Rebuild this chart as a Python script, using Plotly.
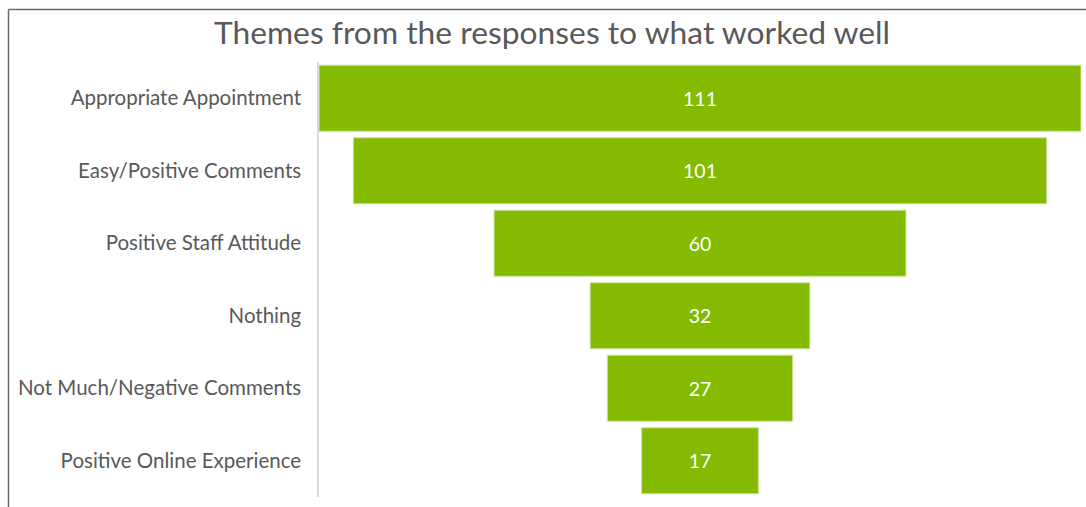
import plotly.graph_objects as go

themes = [
    "Appropriate Appointment",
    "Easy/Positive Comments",
    "Positive Staff Attitude",
    "Nothing",
    "Not Much/Negative Comments",
    "Positive Online Experience",
]
counts = [111, 101, 60, 32, 27, 17]

W, H = 1086, 507
ML, MR, MT, MB = 319, 5, 62, 10
FONT = "Lato, Carlito, Calibri, sans-serif"
GREY = "#595959"

fig = go.Figure(
    go.Funnel(
        y=themes,
        x=counts,
        textinfo="value",
        textposition="inside",
        insidetextanchor="middle",
        textfont=dict(color="white", size=19.5, family=FONT),
        marker=dict(color="#84bb00", line=dict(color="#c9e39a", width=1)),
        connector=dict(visible=False),
        hoverinfo="y+x",
    )
)

half = max(counts) / 2
pw = W - ML - MR
ph = H - MT - MB

fig.update_layout(
    width=W,
    height=H,
    margin=dict(l=ML, r=MR, t=MT, b=MB, pad=0),
    paper_bgcolor="white",
    plot_bgcolor="white",
    funnelgap=0.09,
    showlegend=False,
    title=dict(
        text="Themes from the responses to what worked well",
        x=552 / W,
        xanchor="center",
        y=1 - 33 / H,
        yanchor="middle",
        font=dict(family=FONT, size=31.8, color=GREY),
    ),
    xaxis=dict(range=[-half, half], visible=False, fixedrange=True),
    yaxis=dict(
        showline=True,
        linecolor="#d9d9d9",
        linewidth=1.5,
        showgrid=False,
        ticks="",
        ticklabelstandoff=12,
        tickfont=dict(family=FONT, size=20.5, color=GREY),
        autorange="reversed",
    ),
    shapes=[
        dict(
            type="line", xref="paper", yref="paper",
            x0=(8.5 - ML) / pw, x1=(W - ML) / pw,
            y0=1 + (MT - 9.5) / ph, y1=1 + (MT - 9.5) / ph,
            line=dict(color="#5f6b77", width=1.5),
        ),
        dict(
            type="line", xref="paper", yref="paper",
            x0=(8.5 - ML) / pw, x1=(8.5 - ML) / pw,
            y0=1 + (MT - 9.5) / ph, y1=-MB / ph,
            line=dict(color="#5f6b77", width=1.5),
        ),
    ],
)

fig.write_html("out.html")
